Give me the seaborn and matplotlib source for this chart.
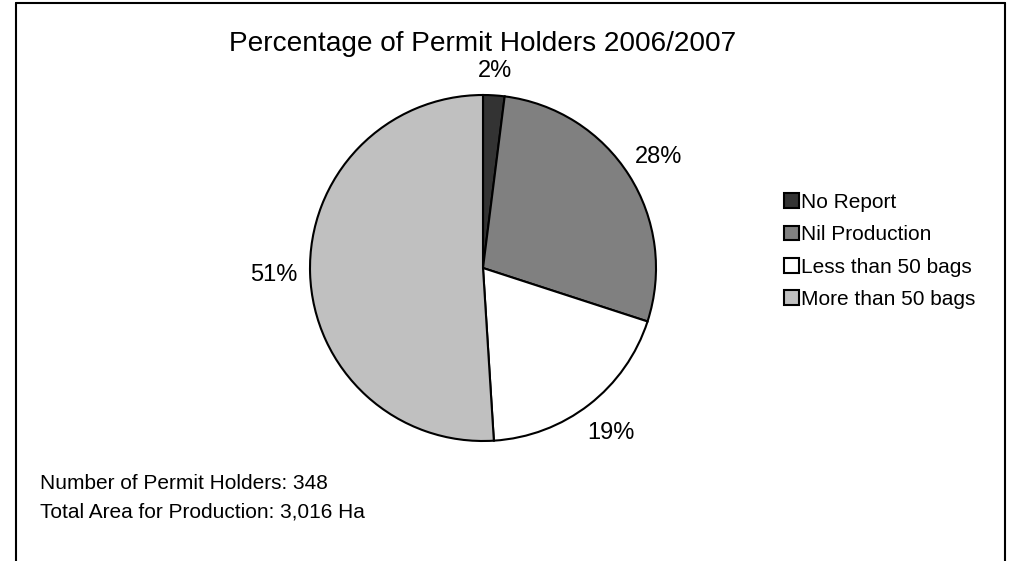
import matplotlib
matplotlib.use("Agg")
import numpy as np
import matplotlib.pyplot as plt
import seaborn as sns
from matplotlib.patches import Patch

categories = ["No Report", "Nil Production", "Less than 50 bags", "More than 50 bags"]
values = [2, 28, 19, 51]
labels = ["2%", "28%", "19%", "51%"]
colors = ["#333333", "#808080", "#FFFFFF", "#C0C0C0"]
label_dist = [1.14, 1.2, 1.21, 1.21]

sns.set_theme(style="white")
plt.rcParams['font.family'] = ['Liberation Sans', 'DejaVu Sans']
plt.rcParams['text.color'] = 'black'

fig = plt.figure(figsize=(10.16, 5.61), dpi=100)
W, H = 1016, 561

# frame (open at bottom)
fig.add_artist(plt.Line2D([16/W, 16/W], [0, 1-3/H], color="black", lw=1.5))
fig.add_artist(plt.Line2D([16/W, 1005/W], [1-3/H, 1-3/H], color="black", lw=1.5))
fig.add_artist(plt.Line2D([1005/W, 1005/W], [0, 1-3/H], color="black", lw=1.5))

cx, cy, r = 483, 268, 173
ax = fig.add_axes([(cx-r)/W, 1-(cy+r)/H, 2*r/W, 2*r/H])
wedges, texts = ax.pie(values, colors=colors, startangle=90, counterclock=False,
                       labels=labels, labeldistance=1.2,
                       wedgeprops=dict(edgecolor="black", linewidth=1.5),
                       textprops=dict(fontsize=17, color="black"))
ax.set_aspect("equal")
ax.set_xlim(-1, 1); ax.set_ylim(-1, 1)
ax.axis("off")
for w, t, d in zip(wedges, texts, label_dist):
    ang = np.deg2rad((w.theta1 + w.theta2) / 2)
    t.set_position((d * np.cos(ang), d * np.sin(ang)))
    t.set_ha("center"); t.set_va("center")
    t.set_clip_on(False)

fig.text(483/W, 1-51/H, "Percentage of Permit Holders 2006/2007", ha="center", va="baseline",
         fontsize=20.2, color="black")

handles = [Patch(facecolor=c, edgecolor="black", linewidth=1.5) for c in colors]
leg = fig.legend(handles, categories, loc="upper left", bbox_to_anchor=(784/W, 1-193/H),
                 frameon=False, fontsize=15, handlelength=0.72, handleheight=0.72,
                 handletextpad=0.1, labelspacing=0.64, borderpad=0, borderaxespad=0,
                 labelcolor="black")

fig.text(40/W, 1-489/H, "Number of Permit Holders: 348", ha="left", va="baseline",
         fontsize=15, color="black")
fig.text(40/W, 1-518/H, "Total Area for Production: 3,016 Ha", ha="left", va="baseline",
         fontsize=15, color="black")

fig.savefig("out.png", dpi=100)
